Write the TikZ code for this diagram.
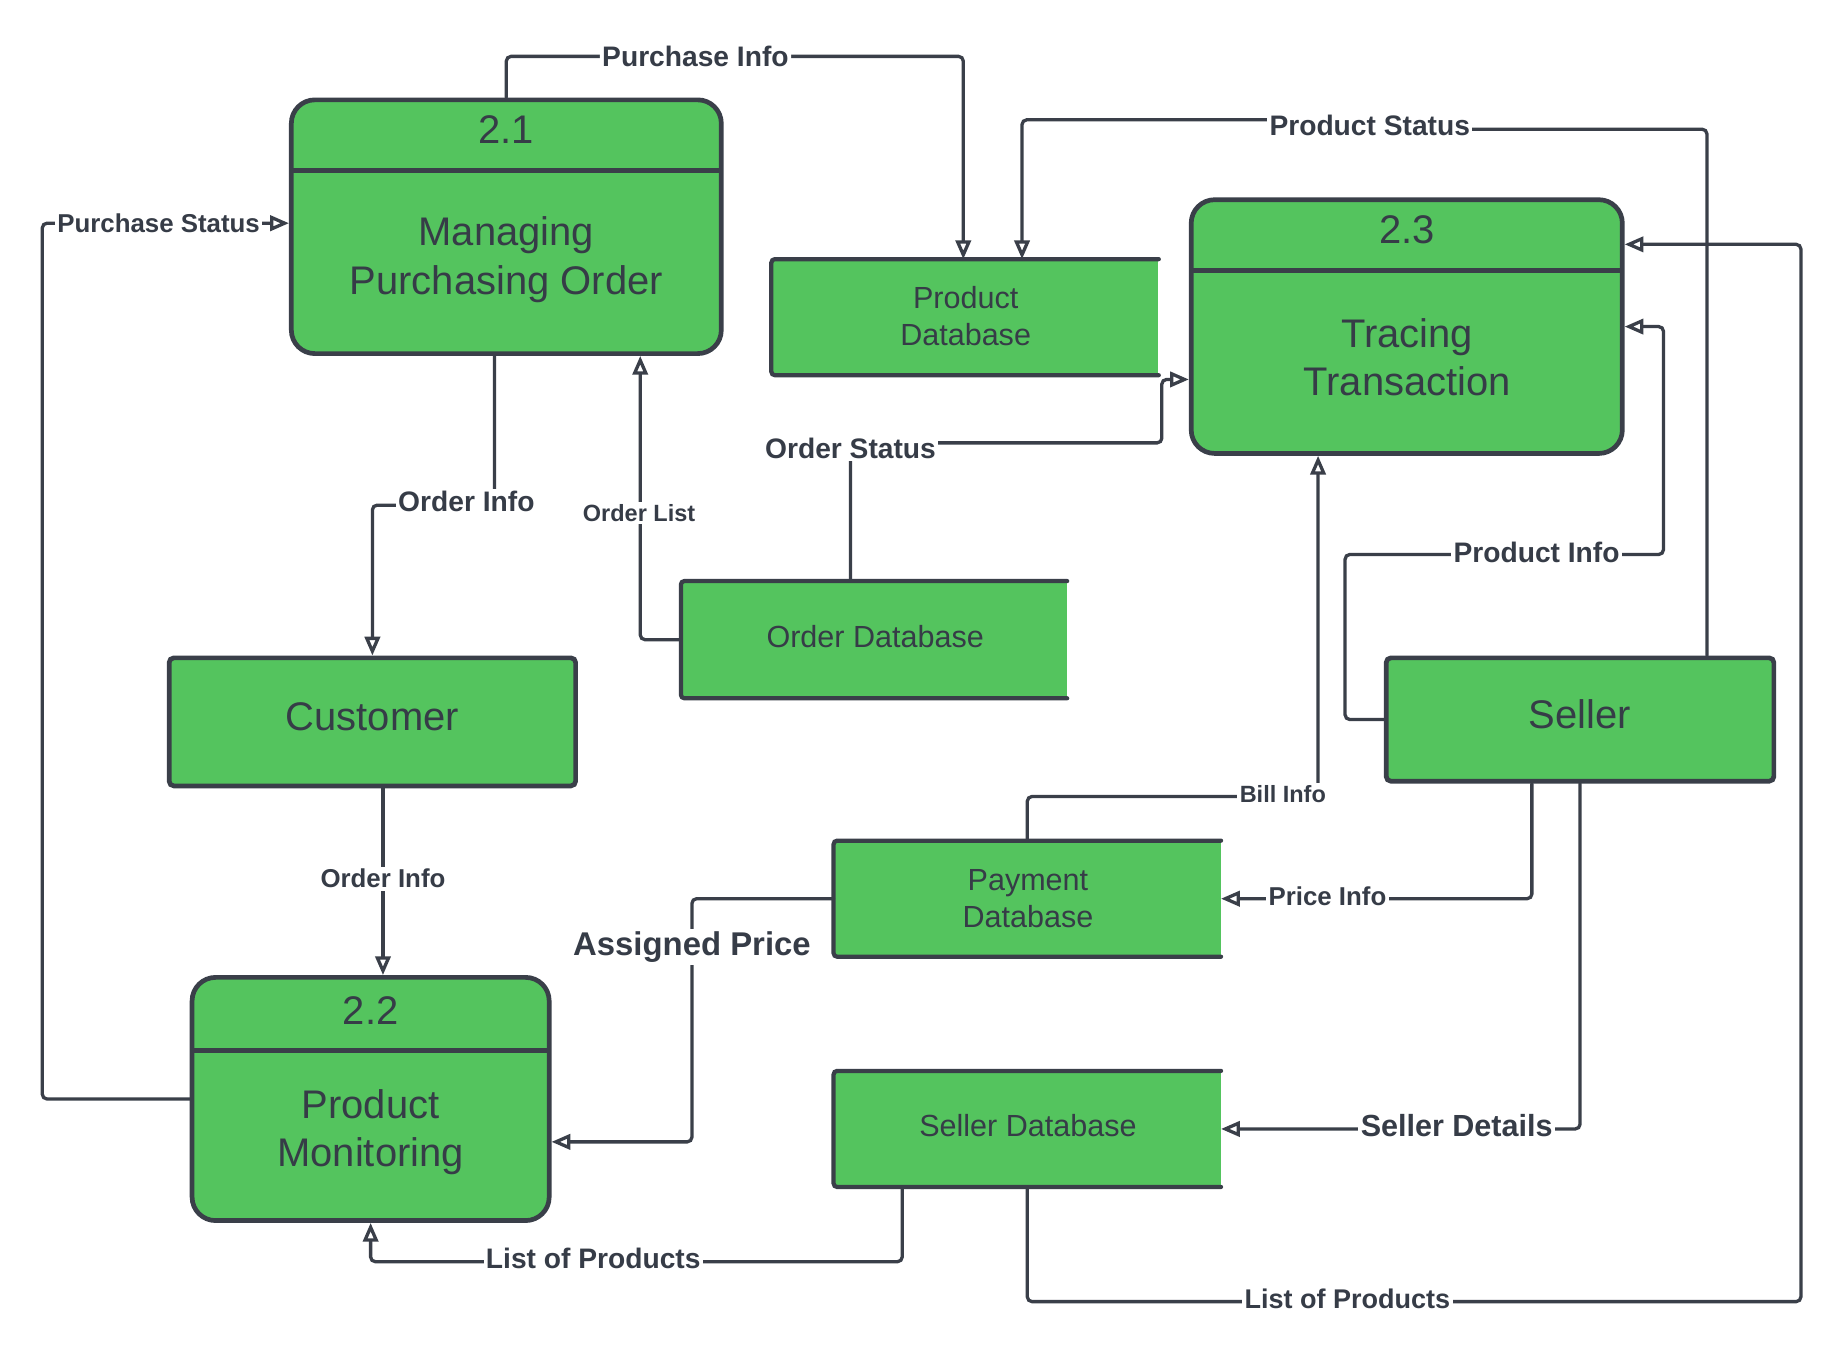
\documentclass[tikz,border=0pt]{standalone}
\usepackage{fontspec}
\setmainfont{Liberation Sans}
\usetikzlibrary{arrows.meta,fit}

\definecolor{boxgreen}{HTML}{54C45E}
\definecolor{linegray}{HTML}{3A3F49}
\definecolor{textgray}{HTML}{363C47}

\begin{document}
\begin{tikzpicture}
		[x=0.5pt,y=-0.5pt,line cap=round,
		%Styles
		process/.style={draw=linegray,line width=2pt,fill=boxgreen,rounded corners=10pt,inner sep=0pt},
		entity/.style={draw=linegray,line width=2pt,fill=boxgreen,rounded corners=2pt,inner sep=0pt},
		store/.style={fill=boxgreen,inner sep=0pt},
		store line/.style={linegray,line width=1.8pt,rounded corners=1.5pt},
		divider/.style={linegray,line width=2pt,line cap=butt,shorten <=1.5pt,shorten >=1.5pt},
		flow/.style={linegray,line width=1.4pt,rounded corners=2pt,-{Triangle[open,length=8pt,width=6.5pt]}},
		big text/.style={text=textgray,align=center,font=\fontsize{17}{20.5}\selectfont},
		small text/.style={text=textgray,align=center,font=\fontsize{13}{16}\selectfont},
		lbl/.style={fill=white,inner sep=1pt,text=textgray,font=\fontsize{#1}{#1}\selectfont\bfseries},
		lbl/.default=12
		]
		
		%Canvas
		\fill[white] (0,0) rectangle (1568,1156);
		\useasboundingbox (0,0) rectangle (1568,1156);
		
		%Processes
		\node[process,fit={(248,85) (614,301)}] (p21) {};
		\draw[divider] (p21.west |- 0,145) -- (p21.east |- 0,145);
		\node[big text] (p21n) at (431,110) {2.1};
		\node[big text] (p21t) at (431,221) {Managing\\Purchasing Order};
		
		\node[process,fit={(163.5,832) (467.5,1039)}] (p22) {};
		\draw[divider] (p22.west |- 0,894) -- (p22.east |- 0,894);
		\node[big text] (p22n) at (315.5,860) {2.2};
		\node[big text] (p22t) at (315.5,964) {Product\\Monitoring};
		
		\node[process,fit={(1014,170) (1381,386)}] (p23) {};
		\draw[divider] (p23.west |- 0,230) -- (p23.east |- 0,230);
		\node[big text] (p23n) at (1198,196) {2.3};
		\node[big text] (p23t) at (1198,304) {Tracing\\Transaction};
		
		%Entities
		\node[entity,fit={(144,560) (490,669)}] (cust) {};
		\node[big text] (custt) at (317,610) {Customer};
		\node[entity,fit={(1180,560) (1510,665)}] (seller) {};
		\node[big text] (sellert) at (1345,608) {Seller};
		
		%Data stores
		\node[store,fit={(657,221) (986,319)}] (pdb) {};
		\draw[store line] (pdb.north east) -- (pdb.north west) -- (pdb.south west) -- (pdb.south east);
		\node[small text] (pdbt) at (822,269) {Product\\Database};
		
		\node[store,fit={(580,495) (908,594)}] (odb) {};
		\draw[store line] (odb.north east) -- (odb.north west) -- (odb.south west) -- (odb.south east);
		\node[small text] (odbt) at (745,542) {Order Database};
		
		\node[store,fit={(710,716) (1039,814)}] (pay) {};
		\draw[store line] (pay.north east) -- (pay.north west) -- (pay.south west) -- (pay.south east);
		\node[small text] (payt) at (875,765) {Payment\\Database};
		
		\node[store,fit={(710,912) (1039,1010)}] (sdb) {};
		\draw[store line] (sdb.north east) -- (sdb.north west) -- (sdb.south west) -- (sdb.south east);
		\node[small text] (sdbt) at (875,958) {Seller Database};
		
		%Flows
		\draw[flow] (p21.north) -- (431,48) -- (592,48) node[lbl] {Purchase Info} -- (820,48) -- (820,0 |- pdb.north);
		\draw[flow] (1453,0 |- seller.north) -- (1453,110) -- (1166,110) -- (1166,102) -- (870,102) -- (870,0 |- pdb.north);
		\node[lbl] (pstat) at (1166,107) {Product Status};
		\draw[flow] (724,0 |- odb.north) -- (724,377) -- (989,377) -- (989,323) -- (p23.west |- 0,323);
		\node[lbl] (ostat) at (724,382) {Order Status};
		\draw[flow] (421,0 |- p21.south) -- (421,430) -- (317,430) -- (cust.north);
		\node[lbl] (oinfo1) at (397,427) {Order Info};
		\draw[flow] (odb.west) -- (545,544.5) -- (545,0 |- p21.south);
		\node[lbl=10] (olist) at (544,437) {Order List};
		\draw[flow] (p22.west) -- (36,935.5) -- (36,190) -- (p21.west |- 0,190);
		\node[lbl=11] (pstatus) at (135,190) {Purchase Status};
		\draw[flow] (326,0 |- cust.south) -- (326,0 |- p22.north);
		\node[lbl=11] (oinfo2) at (326,748) {Order Info};
		\draw[flow] (pay.west) -- (589,765) -- (589,972) -- (p22.east |- 0,972);
		\node[lbl=14] (aprice) at (589,806) {Assigned Price};
		\draw[flow] (768,0 |- sdb.south) -- (768,1074) -- (315.5,1074) -- (p22.south);
		\node[lbl] (lprod1) at (505,1071) {List of Products};
		\draw[flow] (sdb.south) -- (874.5,1108) -- (1533,1108) -- (1533,208) -- (p23.east |- 0,208);
		\node[lbl=11.5] (lprod2) at (1147,1106) {List of Products};
		\draw[flow] (pay.north) -- (874.5,678) -- (1122,678) -- (1122,0 |- p23.south);
		\node[lbl=10] (binfo) at (1092,676) {Bill Info};
		\draw[flow] (1304,0 |- seller.south) -- (1304,765) -- (pay.east);
		\node[lbl=11] (prinfo) at (1130,763) {Price Info};
		\draw[flow] (seller.south) -- (1345,961) -- (sdb.east);
		\node[lbl=13] (sdet) at (1240,958) {Seller Details};
		\draw[flow] (seller.west) -- (1145,612.5) -- (1145,472) -- (1416,472) -- (1416,278) -- (p23.east |- 0,278);
		\node[lbl] (pinfo) at (1308,470) {Product Info};
	\end{tikzpicture}
\end{document}
